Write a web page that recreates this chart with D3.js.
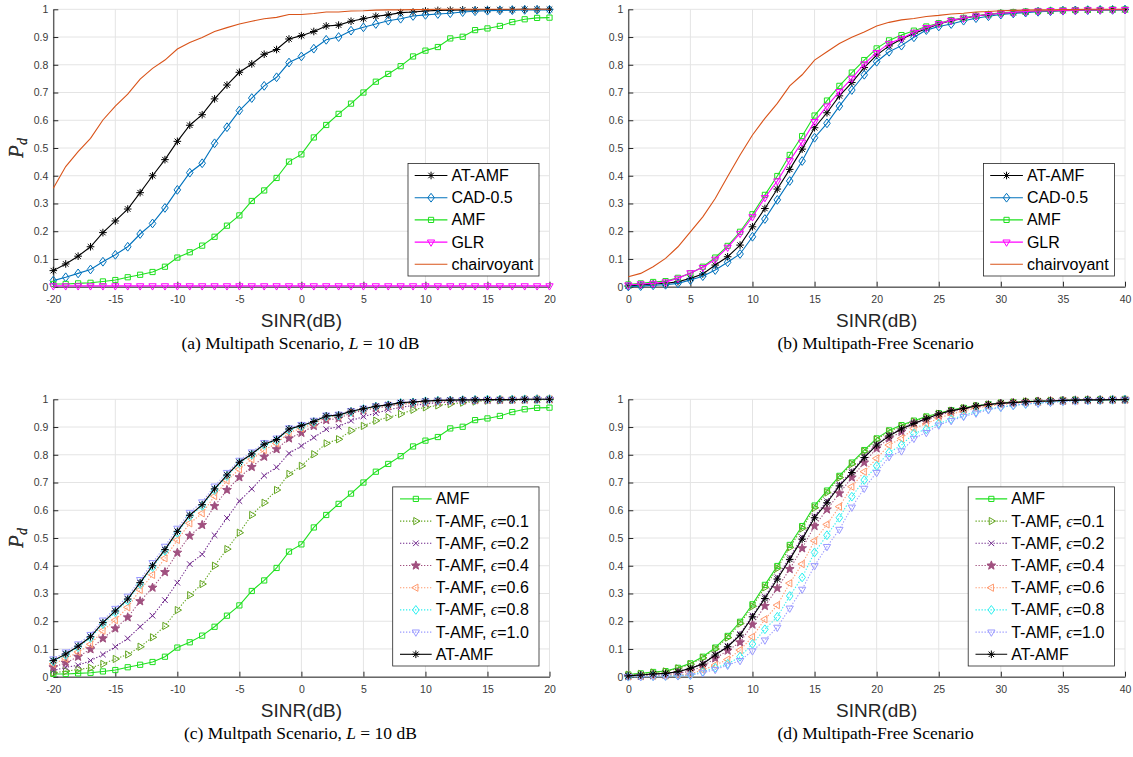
<!DOCTYPE html>
<html>
<head>
<meta charset="utf-8">
<script src="https://cdn.jsdelivr.net/npm/d3@7/dist/d3.min.js"></script>
<style>
  body { margin: 0; background: #fff; }
  text { font-family: "Liberation Sans", Arial, Helvetica, sans-serif; }
  .serif { font-family: "Liberation Serif", "Times New Roman", serif; }
</style>
</head>
<body>
<svg id="fig" width="1133" height="757"></svg>
<script>
/**
 * Detection probability vs SINR, four panels (a)-(d).
 */

// Categories (SINR in dB).
var SINR_MULTIPATH = [-20,-19,-18,-17,-16,-15,-14,-13,-12,-11,-10,-9,-8,-7,-6,-5,-4,-3,-2,-1,
  0,1,2,3,4,5,6,7,8,9,10,11,12,13,14,15,16,17,18,19,20];
var SINR_FREE = [0,1,2,3,4,5,6,7,8,9,10,11,12,13,14,15,16,17,18,19,
  20,21,22,23,24,25,26,27,28,29,30,31,32,33,34,35,36,37,38,39,40];

// Tick labels.
var X_TICKS_MULTIPATH = [-20,-15,-10,-5,0,5,10,15,20];
var X_LABELS_MULTIPATH = ['-20','-15','-10','-5','0','5','10','15','20'];
var X_TICKS_FREE = [0,5,10,15,20,25,30,35,40];
var X_LABELS_FREE = ['0','5','10','15','20','25','30','35','40'];
var Y_TICKS = [0,0.1,0.2,0.3,0.4,0.5,0.6,0.7,0.8,0.9,1];
var Y_LABELS = ['0','0.1','0.2','0.3','0.4','0.5','0.6','0.7','0.8','0.9','1'];

// (a) / (c) multipath scenario, L = 10 dB.
var atamfMultipath = [0.058,0.082,0.110,0.144,0.195,0.237,0.280,0.339,0.400,0.458,0.524,0.582,0.620,0.677,0.727,0.773,0.803,0.838,0.855,0.893,
  0.905,0.920,0.940,0.943,0.957,0.966,0.975,0.980,0.988,0.990,0.994,0.996,0.997,0.998,0.998,0.999,0.999,0.999,1.000,1.000,1.000];
var cadMultipath = [0.022,0.034,0.048,0.062,0.090,0.115,0.144,0.190,0.228,0.284,0.349,0.411,0.445,0.517,0.575,0.635,0.680,0.724,0.755,0.808,
  0.830,0.858,0.890,0.900,0.923,0.935,0.947,0.959,0.966,0.976,0.980,0.983,0.986,0.990,0.993,0.995,0.996,0.997,0.998,0.998,0.998];
var amfMultipath = [0.010,0.010,0.012,0.014,0.019,0.024,0.034,0.043,0.053,0.072,0.105,0.124,0.148,0.180,0.220,0.257,0.309,0.347,0.392,0.451,
  0.477,0.538,0.583,0.623,0.660,0.700,0.739,0.767,0.795,0.830,0.851,0.864,0.895,0.901,0.925,0.931,0.940,0.954,0.964,0.969,0.970];
var glrMultipath = [0.003,0.003,0.003,0.003,0.003,0.003,0.003,0.003,0.003,0.003,0.003,0.003,0.003,0.003,0.003,0.003,0.003,0.003,0.003,0.003,
  0.003,0.003,0.003,0.003,0.003,0.003,0.003,0.003,0.003,0.003,0.003,0.003,0.003,0.003,0.003,0.003,0.003,0.003,0.003,0.003,0.003];
var clairMultipath = [0.355,0.433,0.487,0.535,0.601,0.651,0.694,0.748,0.787,0.817,0.857,0.880,0.898,0.920,0.934,0.947,0.957,0.966,0.971,0.981,
  0.981,0.985,0.990,0.990,0.994,0.995,0.997,0.998,0.998,0.999,0.999,1.000,1.000,1.000,1.000,1.000,1.000,1.000,1.000,1.000,1.000];
var tamf01Multipath = [0.014,0.020,0.026,0.032,0.046,0.064,0.080,0.108,0.142,0.183,0.240,0.294,0.334,0.400,0.460,0.519,0.583,0.627,0.673,0.731,
  0.760,0.802,0.841,0.856,0.887,0.904,0.923,0.935,0.947,0.962,0.971,0.978,0.983,0.988,0.992,0.995,0.996,0.997,0.998,0.999,0.999];
var tamf02Multipath = [0.022,0.034,0.041,0.058,0.080,0.108,0.138,0.180,0.220,0.276,0.339,0.406,0.441,0.510,0.572,0.633,0.677,0.725,0.755,0.805,
  0.832,0.862,0.892,0.901,0.923,0.938,0.950,0.962,0.971,0.978,0.983,0.988,0.990,0.993,0.995,0.996,0.997,0.998,0.999,0.999,1.000];
var tamf04Multipath = [0.034,0.050,0.072,0.099,0.138,0.174,0.214,0.272,0.321,0.377,0.447,0.508,0.547,0.615,0.673,0.719,0.756,0.793,0.820,0.859,
  0.879,0.904,0.925,0.931,0.950,0.960,0.968,0.975,0.981,0.986,0.989,0.992,0.994,0.996,0.997,0.998,0.998,0.999,0.999,1.000,1.000];
var tamf06Multipath = [0.046,0.065,0.089,0.117,0.166,0.204,0.250,0.313,0.367,0.427,0.493,0.553,0.589,0.651,0.707,0.748,0.784,0.817,0.841,0.880,
  0.895,0.913,0.935,0.940,0.955,0.964,0.972,0.978,0.984,0.987,0.991,0.993,0.995,0.996,0.997,0.998,0.999,0.999,1.000,1.000,1.000];
var tamf08Multipath = [0.055,0.079,0.106,0.140,0.190,0.232,0.275,0.334,0.395,0.454,0.519,0.578,0.616,0.673,0.723,0.770,0.800,0.835,0.852,0.890,
  0.902,0.918,0.938,0.941,0.955,0.965,0.974,0.979,0.987,0.989,0.993,0.995,0.996,0.997,0.998,0.999,0.999,0.999,1.000,1.000,1.000];
var tamf10Multipath = [0.064,0.089,0.118,0.152,0.204,0.246,0.290,0.350,0.411,0.470,0.535,0.592,0.630,0.687,0.736,0.780,0.810,0.844,0.860,0.897,
  0.909,0.924,0.943,0.946,0.959,0.968,0.976,0.981,0.989,0.991,0.994,0.996,0.997,0.998,0.998,0.999,0.999,0.999,1.000,1.000,1.000];

// (b) / (d) multipath-free scenario.
var clairFree = [0.036,0.048,0.072,0.102,0.144,0.198,0.252,0.318,0.397,0.475,0.547,0.607,0.661,0.724,0.764,0.817,0.847,0.877,0.899,0.918,
  0.940,0.953,0.962,0.967,0.974,0.978,0.983,0.986,0.990,0.992,0.995,0.996,0.997,0.998,0.998,0.999,0.999,1.000,1.000,1.000,1.000];
var atamfFree = [0.003,0.006,0.010,0.012,0.018,0.030,0.046,0.078,0.108,0.150,0.216,0.282,0.352,0.423,0.496,0.573,0.627,0.688,0.736,0.790,
  0.835,0.868,0.893,0.913,0.930,0.947,0.959,0.967,0.976,0.981,0.986,0.988,0.991,0.993,0.994,0.996,0.997,0.998,0.998,0.999,0.999];
var cadFree = [0.001,0.002,0.005,0.007,0.012,0.024,0.038,0.060,0.088,0.118,0.180,0.244,0.313,0.381,0.453,0.537,0.589,0.651,0.709,0.764,
  0.811,0.847,0.869,0.899,0.925,0.938,0.947,0.959,0.968,0.975,0.981,0.985,0.988,0.991,0.993,0.995,0.996,0.997,0.998,0.998,0.999];
var amfFree = [0.008,0.012,0.017,0.020,0.032,0.048,0.072,0.105,0.147,0.198,0.261,0.331,0.399,0.475,0.543,0.617,0.671,0.724,0.772,0.817,
  0.859,0.888,0.907,0.923,0.938,0.950,0.961,0.969,0.977,0.982,0.987,0.990,0.992,0.994,0.995,0.996,0.997,0.998,0.998,0.999,0.999];
var glrFree = [0.006,0.010,0.012,0.017,0.030,0.050,0.069,0.099,0.142,0.192,0.252,0.321,0.381,0.454,0.521,0.595,0.651,0.703,0.751,0.803,
  0.844,0.877,0.895,0.917,0.934,0.948,0.960,0.968,0.976,0.981,0.986,0.989,0.992,0.994,0.995,0.996,0.997,0.998,0.998,0.999,0.999];
var tamf01Free = [0.007,0.010,0.015,0.019,0.030,0.045,0.068,0.100,0.141,0.192,0.254,0.322,0.391,0.466,0.535,0.609,0.664,0.718,0.767,0.812,
  0.855,0.884,0.903,0.920,0.935,0.948,0.959,0.968,0.976,0.981,0.986,0.989,0.992,0.994,0.995,0.996,0.997,0.998,0.998,0.999,0.999];
var tamf02Free = [0.004,0.006,0.009,0.012,0.019,0.031,0.048,0.080,0.111,0.154,0.221,0.288,0.359,0.430,0.503,0.579,0.633,0.693,0.741,0.794,
  0.838,0.871,0.895,0.915,0.931,0.947,0.959,0.967,0.976,0.981,0.986,0.988,0.991,0.993,0.994,0.996,0.997,0.998,0.998,0.999,0.999];
var tamf04Free = [0.002,0.003,0.005,0.007,0.012,0.020,0.038,0.066,0.094,0.124,0.188,0.255,0.319,0.388,0.463,0.543,0.603,0.661,0.718,0.772,
  0.823,0.859,0.883,0.913,0.925,0.942,0.955,0.964,0.972,0.979,0.984,0.987,0.990,0.992,0.994,0.995,0.996,0.997,0.998,0.999,0.999];
var tamf06Free = [0.001,0.002,0.003,0.004,0.006,0.010,0.024,0.042,0.062,0.096,0.144,0.207,0.258,0.337,0.406,0.490,0.549,0.613,0.685,0.739,
  0.787,0.835,0.859,0.895,0.912,0.932,0.947,0.958,0.968,0.975,0.981,0.985,0.988,0.991,0.993,0.995,0.996,0.997,0.998,0.998,0.999];
var tamf08Free = [0.000,0.001,0.002,0.003,0.004,0.006,0.018,0.032,0.046,0.072,0.118,0.171,0.216,0.291,0.358,0.448,0.510,0.573,0.649,0.709,
  0.760,0.808,0.835,0.877,0.892,0.913,0.928,0.942,0.955,0.965,0.972,0.978,0.983,0.987,0.990,0.993,0.995,0.996,0.997,0.998,0.999];
var tamf10Free = [0.000,0.000,0.001,0.002,0.003,0.005,0.014,0.026,0.041,0.058,0.093,0.132,0.178,0.247,0.315,0.400,0.469,0.531,0.611,0.679,
  0.736,0.793,0.814,0.859,0.880,0.907,0.923,0.938,0.950,0.962,0.971,0.978,0.983,0.986,0.989,0.992,0.994,0.996,0.997,0.998,0.999];

// Colours.
var BLACK = '#000000';
var BLUE = '#0072BD';
var GREEN = '#1ee01e';
var MAGENTA = '#ff00ff';
var ORANGE = '#D95319';
var OLIVE = '#63a520';
var PURPLE = '#70288c';
var MAUVE = '#a0507f';
var SALMON = '#ff9a6e';
var CYAN = '#2ef0f0';
var LAVENDER = '#9a9aff';
var AXIS_COLOR = '#262626';
var GRID_COLOR = '#e4e4e4';

var fig = d3.select('#fig');

/**
 * markerPath
 * ==========
 * Returns an svg path (centred on 0,0) for a MATLAB-like marker.
 */
var markerPath = function(type) {
  var p = d3.path();
  var r, a, i, ang;
  if (type === 'star') {
    r = 3.8; a = r * 0.72;
    p.moveTo(-r, 0); p.lineTo(r, 0);
    p.moveTo(0, -r); p.lineTo(0, r);
    p.moveTo(-a, -a); p.lineTo(a, a);
    p.moveTo(-a, a); p.lineTo(a, -a);
  } else if (type === 'diamond') {
    p.moveTo(0, -4.4); p.lineTo(3.3, 0); p.lineTo(0, 4.4); p.lineTo(-3.3, 0); p.closePath();
  } else if (type === 'square') {
    p.rect(-2.6, -2.6, 5.2, 5.2);
  } else if (type === 'x') {
    a = 2.8;
    p.moveTo(-a, -a); p.lineTo(a, a);
    p.moveTo(-a, a); p.lineTo(a, -a);
  } else if (type === 'pent') {
    r = 4.6;
    for (i = 0; i < 10; i++) {
      ang = -Math.PI / 2 + i * Math.PI / 5;
      var rr = (i % 2 === 0) ? r : r * 0.42;
      if (i === 0) p.moveTo(rr * Math.cos(ang), rr * Math.sin(ang));
      else p.lineTo(rr * Math.cos(ang), rr * Math.sin(ang));
    }
    p.closePath();
  } else {
    // triangles: v, >, <
    r = 4.2;
    var start = {v: Math.PI / 2, '>': 0, '<': Math.PI}[type];
    for (i = 0; i < 3; i++) {
      ang = start + i * 2 * Math.PI / 3;
      if (i === 0) p.moveTo(r * Math.cos(ang), r * Math.sin(ang));
      else p.lineTo(r * Math.cos(ang), r * Math.sin(ang));
    }
    p.closePath();
  }
  return p.toString();
};

var drawMarkers = function(g, pts, s) {
  if (!s.marker) return;
  g.selectAll('path.mk')
    .data(pts)
    .enter()
    .append('path')
    .attr('class', 'mk')
    .attr('d', markerPath(s.marker))
    .attr('transform', function(d) { return 'translate(' + d[0] + ',' + d[1] + ')'; })
    .attr('fill', s.marker === 'pent' ? s.color : 'none')
    .attr('stroke', s.color)
    .attr('stroke-width', 1)
    .attr('stroke-linejoin', 'miter');
};

// Panel layout (pixels).
var LEFT_X = [53.3, 549.5];
var RIGHT_X = [628.3, 1125];
var TOP_Y = [9.3, 286.7];
var BOTTOM_Y = [399.3, 676.7];

var panels = [
  {
    xr: LEFT_X, yr: TOP_Y, sinr: SINR_MULTIPATH, ticks: X_TICKS_MULTIPATH, labels: X_LABELS_MULTIPATH,
    caption: ['(a) Multipath Scenario, ', 'L', ' = 10 dB'], legendW: 131,
    series: [
      {name: 'AT-AMF', values: atamfMultipath, color: BLACK, marker: 'star'},
      {name: 'CAD-0.5', values: cadMultipath, color: BLUE, marker: 'diamond'},
      {name: 'AMF', values: amfMultipath, color: GREEN, marker: 'square'},
      {name: 'GLR', values: glrMultipath, color: MAGENTA, marker: 'v'},
      {name: 'chairvoyant', values: clairMultipath, color: ORANGE, marker: null}
    ]
  },
  {
    xr: RIGHT_X, yr: TOP_Y, sinr: SINR_FREE, ticks: X_TICKS_FREE, labels: X_LABELS_FREE,
    caption: ['(b) Multipath-Free Scenario'], legendW: 131,
    series: [
      {name: 'AT-AMF', values: atamfFree, color: BLACK, marker: 'star'},
      {name: 'CAD-0.5', values: cadFree, color: BLUE, marker: 'diamond'},
      {name: 'AMF', values: amfFree, color: GREEN, marker: 'square'},
      {name: 'GLR', values: glrFree, color: MAGENTA, marker: 'v'},
      {name: 'chairvoyant', values: clairFree, color: ORANGE, marker: null}
    ]
  },
  {
    xr: LEFT_X, yr: BOTTOM_Y, sinr: SINR_MULTIPATH, ticks: X_TICKS_MULTIPATH, labels: X_LABELS_MULTIPATH,
    caption: ['(c) Multpath Scenario, ', 'L', ' = 10 dB'], legendW: 146.3,
    series: [
      {name: 'AMF', values: amfMultipath, color: GREEN, marker: 'square'},
      {name: 'T-AMF, ', eps: '=0.1', values: tamf01Multipath, color: OLIVE, marker: '>', dotted: true},
      {name: 'T-AMF, ', eps: '=0.2', values: tamf02Multipath, color: PURPLE, marker: 'x', dotted: true},
      {name: 'T-AMF, ', eps: '=0.4', values: tamf04Multipath, color: MAUVE, marker: 'pent', dotted: true},
      {name: 'T-AMF, ', eps: '=0.6', values: tamf06Multipath, color: SALMON, marker: '<', dotted: true},
      {name: 'T-AMF, ', eps: '=0.8', values: tamf08Multipath, color: CYAN, marker: 'diamond', dotted: true},
      {name: 'T-AMF, ', eps: '=1.0', values: tamf10Multipath, color: LAVENDER, marker: 'v', dotted: true},
      {name: 'AT-AMF', values: atamfMultipath, color: BLACK, marker: 'star'}
    ]
  },
  {
    xr: RIGHT_X, yr: BOTTOM_Y, sinr: SINR_FREE, ticks: X_TICKS_FREE, labels: X_LABELS_FREE,
    caption: ['(d) Multipath-Free Scenario'], legendW: 146.3,
    series: [
      {name: 'AMF', values: amfFree, color: GREEN, marker: 'square'},
      {name: 'T-AMF, ', eps: '=0.1', values: tamf01Free, color: OLIVE, marker: '>', dotted: true},
      {name: 'T-AMF, ', eps: '=0.2', values: tamf02Free, color: PURPLE, marker: 'x', dotted: true},
      {name: 'T-AMF, ', eps: '=0.4', values: tamf04Free, color: MAUVE, marker: 'pent', dotted: true},
      {name: 'T-AMF, ', eps: '=0.6', values: tamf06Free, color: SALMON, marker: '<', dotted: true},
      {name: 'T-AMF, ', eps: '=0.8', values: tamf08Free, color: CYAN, marker: 'diamond', dotted: true},
      {name: 'T-AMF, ', eps: '=1.0', values: tamf10Free, color: LAVENDER, marker: 'v', dotted: true},
      {name: 'AT-AMF', values: atamfFree, color: BLACK, marker: 'star'}
    ]
  }
];

/**
 * drawPanel
 * =========
 * Draws grid, axes, curves, legend and caption of one panel.
 */
var drawPanel = function(p) {
  var g = fig.append('g');
  var x = d3.scaleLinear()
    .domain([p.sinr[0], p.sinr[p.sinr.length - 1]])
    .range(p.xr);
  var y = d3.scaleLinear().domain([0, 1]).range([p.yr[1], p.yr[0]]);

  // Grid.
  g.append('g').selectAll('line')
    .data(p.ticks).enter().append('line')
    .attr('x1', function(d) { return x(d); })
    .attr('x2', function(d) { return x(d); })
    .attr('y1', p.yr[0]).attr('y2', p.yr[1])
    .attr('stroke', GRID_COLOR).attr('stroke-width', 1);
  g.append('g').selectAll('line')
    .data(Y_TICKS).enter().append('line')
    .attr('x1', p.xr[0]).attr('x2', p.xr[1])
    .attr('y1', function(d) { return y(d); })
    .attr('y2', function(d) { return y(d); })
    .attr('stroke', GRID_COLOR).attr('stroke-width', 1);

  // Axes (box off, ticks pointing inwards).
  var yAxis = g.append('g')
    .attr('transform', 'translate(' + p.xr[0] + ',0)')
    .call(d3.axisLeft(y).tickValues(Y_TICKS)
      .tickFormat(function(d, i) { return Y_LABELS[i]; })
      .tickSizeInner(-5).tickSizeOuter(0).tickPadding(5));
  var xAxis = g.append('g')
    .attr('transform', 'translate(0,' + p.yr[1] + ')')
    .call(d3.axisBottom(x).tickValues(p.ticks)
      .tickFormat(function(d, i) { return p.labels[i]; })
      .tickSizeInner(-5).tickSizeOuter(0).tickPadding(9));
  [yAxis, xAxis].forEach(function(ax) {
    ax.attr('color', AXIS_COLOR)
      .attr('font-family', '"Liberation Sans", Arial, sans-serif')
      .attr('font-size', 10.5);
    ax.selectAll('text').attr('fill', '#3a3a3a');
  });

  // Axis titles.
  g.append('text')
    .attr('x', (p.xr[0] + p.xr[1]) / 2)
    .attr('y', p.yr[1] + 40)
    .attr('text-anchor', 'middle')
    .attr('font-size', 19)
    .attr('fill', '#262626')
    .text('SINR(dB)');
  var yl = g.append('text')
    .attr('class', 'serif')
    .attr('transform', 'translate(23,' + ((p.yr[0] + p.yr[1]) / 2) + ') rotate(-90)')
    .attr('text-anchor', 'middle')
    .attr('fill', '#333')
    .attr('font-style', 'italic');
  yl.append('tspan').attr('font-size', 21).text('P');
  yl.append('tspan').attr('font-size', 14).attr('dy', 4).text('d');

  // Curves.
  p.series.forEach(function(s) {
    var pts = s.values.map(function(v, i) { return [x(p.sinr[i]), y(v)]; });
    var sg = g.append('g');
    sg.append('path')
      .attr('d', d3.line()(pts))
      .attr('fill', 'none')
      .attr('stroke', s.color)
      .attr('stroke-width', 1.1)
      .attr('stroke-dasharray', s.dotted ? '1.3,1.7' : null);
    drawMarkers(sg, pts, s);
  });

  // Legend.
  var rowH = 22.2;
  var lh = p.series.length * rowH + 1.5;
  var lx = p.xr[1] - 10.5 - p.legendW;
  var ly = p.yr[1] - 10.7 - lh;
  var leg = g.append('g').attr('transform', 'translate(' + lx + ',' + ly + ')');
  leg.append('rect')
    .attr('width', p.legendW).attr('height', lh)
    .attr('fill', '#fff').attr('stroke', AXIS_COLOR).attr('stroke-width', 0.8);
  var lineX0 = p.series.length > 5 ? 7.3 : 6.7;
  var lineX1 = p.series.length > 5 ? 39 : 39.4;
  p.series.forEach(function(s, i) {
    var cy = 12 + i * rowH;
    var row = leg.append('g');
    row.append('line')
      .attr('x1', lineX0).attr('x2', lineX1).attr('y1', cy).attr('y2', cy)
      .attr('stroke', s.color).attr('stroke-width', 1.1)
      .attr('stroke-dasharray', s.dotted ? '1.3,1.7' : null);
    drawMarkers(row, [[(lineX0 + lineX1) / 2, cy]], s);
    var t = row.append('text')
      .attr('x', lineX1 + 4).attr('y', cy + 5.5)
      .attr('font-size', 16).attr('fill', '#000');
    t.append('tspan').text(s.name);
    if (s.eps) {
      t.append('tspan').attr('class', 'serif').attr('font-style', 'italic').text('\u03f5');
      t.append('tspan').text(s.eps);
    }
  });

  // Caption.
  var cap = g.append('text')
    .attr('class', 'serif')
    .attr('x', (p.xr[0] + p.xr[1]) / 2 - 1)
    .attr('y', p.yr[1] + 62)
    .attr('text-anchor', 'middle')
    .attr('font-size', 17.5)
    .attr('fill', '#000');
  cap.append('tspan').text(p.caption[0]);
  if (p.caption.length > 1) {
    cap.append('tspan').attr('font-style', 'italic').text(p.caption[1]);
    cap.append('tspan').text(p.caption[2]);
  }
};

panels.forEach(drawPanel);
</script>
</body>
</html>
